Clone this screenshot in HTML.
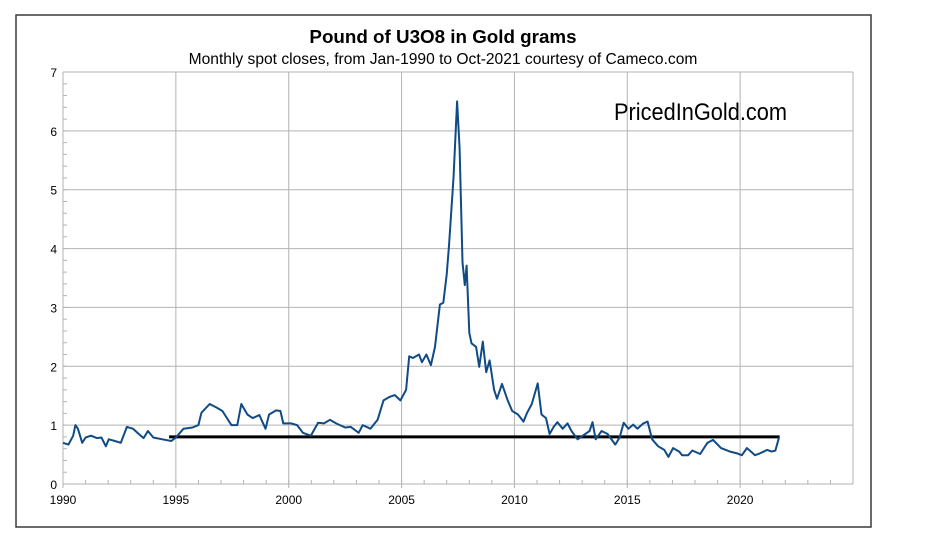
<!DOCTYPE html>
<html><head><meta charset="utf-8"><style>
body{margin:0;background:#fff;}
svg{display:block;font-family:"Liberation Sans",sans-serif;}
</style></head><body>
<svg id="chart" width="940" height="556" xmlns="http://www.w3.org/2000/svg">
<rect x="16" y="15" width="855" height="512" fill="#fff" stroke="#3a3a3a" stroke-width="1.5"/>
<text x="443" y="43" text-anchor="middle" font-size="18.8" font-weight="bold" fill="#000">Pound of U3O8 in Gold grams</text>
<text x="443" y="64" text-anchor="middle" font-size="15.6" fill="#000">Monthly spot closes, from Jan-1990 to Oct-2021 courtesy of Cameco.com</text>
<g id="grid"></g>
<g id="axes"></g>
<text x="614" y="120" font-size="24" fill="#000" textLength="173" lengthAdjust="spacingAndGlyphs" font-family="'Liberation Sans',sans-serif">PricedInGold.com</text>
<g id="series"></g>
</svg>
<script>
const xTicks=[1990,1995,2000,2005,2010,2015,2020];
const yTicks=[0,1,2,3,4,5,6,7];
const dates=[1990.0,1990.24,1990.45,1990.55,1990.66,1990.85,1991.0,1991.24,1991.5,1991.7,1991.9,1992.03,1992.3,1992.56,1992.83,1993.1,1993.36,1993.57,1993.76,1994.0,1994.4,1994.8,1995.0,1995.34,1995.74,1996.0,1996.13,1996.5,1996.8,1997.06,1997.46,1997.72,1997.9,1998.17,1998.4,1998.7,1998.97,1999.13,1999.44,1999.63,1999.76,2000.1,2000.37,2000.63,2000.98,2001.3,2001.56,2001.83,2002.1,2002.5,2002.75,2003.1,2003.28,2003.62,2003.94,2004.2,2004.47,2004.7,2004.95,2005.2,2005.34,2005.5,2005.77,2005.9,2006.1,2006.3,2006.48,2006.7,2006.85,2007.0,2007.1,2007.3,2007.46,2007.57,2007.7,2007.8,2007.88,2008.0,2008.1,2008.3,2008.44,2008.6,2008.75,2008.9,2009.1,2009.23,2009.45,2009.7,2009.9,2010.16,2010.4,2010.56,2010.77,2011.03,2011.2,2011.4,2011.56,2011.74,2011.9,2012.14,2012.35,2012.53,2012.8,2013.07,2013.33,2013.46,2013.6,2013.86,2014.13,2014.47,2014.66,2014.84,2015.05,2015.26,2015.45,2015.71,2015.9,2016.1,2016.37,2016.64,2016.82,2017.03,2017.3,2017.43,2017.7,2017.88,2018.23,2018.55,2018.8,2019.15,2019.55,2019.87,2020.08,2020.3,2020.48,2020.66,2020.87,2021.2,2021.4,2021.56,2021.72];
const values=[0.7,0.67,0.82,1.0,0.94,0.7,0.79,0.82,0.78,0.79,0.64,0.76,0.73,0.7,0.97,0.94,0.85,0.78,0.9,0.79,0.76,0.73,0.79,0.94,0.96,1.0,1.21,1.36,1.3,1.24,1.0,1.0,1.36,1.18,1.12,1.17,0.94,1.18,1.25,1.24,1.03,1.03,1.0,0.87,0.82,1.04,1.03,1.09,1.03,0.96,0.97,0.87,1.0,0.94,1.09,1.42,1.48,1.51,1.42,1.6,2.17,2.14,2.2,2.07,2.2,2.02,2.33,3.05,3.08,3.56,4.05,5.2,6.5,5.7,3.77,3.38,3.71,2.57,2.39,2.33,1.99,2.42,1.9,2.1,1.6,1.45,1.7,1.42,1.24,1.18,1.06,1.21,1.36,1.71,1.18,1.12,0.85,0.97,1.05,0.94,1.03,0.9,0.76,0.83,0.9,1.05,0.76,0.9,0.85,0.67,0.79,1.04,0.94,1.01,0.94,1.03,1.06,0.76,0.64,0.58,0.46,0.61,0.55,0.49,0.49,0.57,0.51,0.7,0.75,0.61,0.55,0.52,0.49,0.61,0.55,0.49,0.52,0.58,0.55,0.57,0.79];
const refStart=[1994.7];
const refEnd=[2021.75];
const refValue=[0.8];

const L=63,R=853,T=72,B=484,X0=1990,X1=2025,Y0=0,Y1=7;
const sx=v=>L+(v-X0)/(X1-X0)*(R-L);
const sy=v=>B-(v-Y0)/(Y1-Y0)*(B-T);
const NS="http://www.w3.org/2000/svg";
function mk(tag,attrs,parent){const e=document.createElementNS(NS,tag);for(const k in attrs)e.setAttribute(k,attrs[k]);parent.appendChild(e);return e;}
const grid=document.getElementById('grid'),axes=document.getElementById('axes'),series=document.getElementById('series');
yTicks.forEach(t=>{
 const l=mk('line',{x1:L,x2:R,y1:sy(t),y2:sy(t),stroke:'#b3b3b3','stroke-width':1},grid);
 
 
 const tx=mk('text',{x:L-6,y:sy(t)+5,'text-anchor':'end','font-size':12,fill:'#000'},axes);
 tx.textContent=t;
 
 
});
for(let y=Y0;y<Y1;y+=0.2){
 const m=mk('line',{x1:L,x2:L+4,y1:sy(y),y2:sy(y),stroke:'#b3b3b3'},axes);
 
 
}
xTicks.forEach(t=>{
 const l=mk('line',{x1:sx(t),x2:sx(t),y1:T,y2:B+4,stroke:'#b3b3b3','stroke-width':1},grid);
 
 
 const tx=mk('text',{x:sx(t),y:B+20,'text-anchor':'middle','font-size':12,fill:'#000'},axes);
 tx.textContent=t;
 
 
});
for(let y=X0;y<=X1;y++){
 const m=mk('line',{x1:sx(y),x2:sx(y),y1:B-4,y2:B,stroke:'#b3b3b3'},axes);
 
 
}
const rb=mk('line',{x1:R,x2:R,y1:T,y2:B,stroke:'#b3b3b3'},grid);


const ax=mk('line',{x1:L,x2:L,y1:T,y2:B,stroke:'#b3b3b3'},axes);


const bx=mk('line',{x1:L,x2:R,y1:B,y2:B,stroke:'#b3b3b3'},axes);


const ref=mk('line',{x1:sx(refStart[0]),x2:sx(refEnd[0]),y1:sy(refValue[0]),y2:sy(refValue[0]),stroke:'#000','stroke-width':3},series);


const pts=dates.map((d,i)=>sx(d).toFixed(1)+','+sy(values[i]).toFixed(1)).join(' ');
const pl=mk('polyline',{points:pts,fill:'none',stroke:'#104b86','stroke-width':2,'stroke-linejoin':'round'},series);


</script>
</body></html>
